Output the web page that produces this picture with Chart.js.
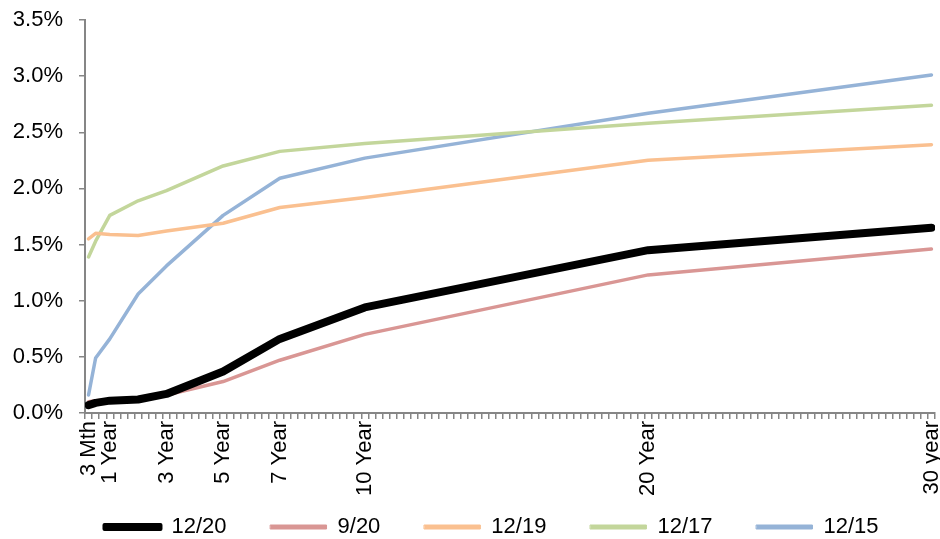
<!DOCTYPE html>
<html>
<head>
<meta charset="utf-8">
<script src="https://cdn.jsdelivr.net/npm/chart.js@4.4.0/dist/chart.umd.min.js"></script>
<style>
  html, body { margin: 0; padding: 0; background: #fff; }
  #curve { display: block; }
</style>
</head>
<body>
<canvas id="curve" width="940" height="539"></canvas>
<script>
// maturities in years
var maturities = [0.25, 0.5, 1, 2, 3, 5, 7, 10, 20, 30];
var tickLabels = {0.25: '3 Mth', 1: '1 Year', 3: '3 Year', 5: '5 Year', 7: '7 Year', 10: '10 Year', 20: '20 Year', 30: '30 year'};

var dec20 = [0.07, 0.09, 0.11, 0.12, 0.17, 0.37, 0.66, 0.94, 1.45, 1.65];
var sep20 = [0.10, 0.11, 0.12, 0.13, 0.16, 0.28, 0.47, 0.70, 1.23, 1.46];
var dec19 = [1.55, 1.60, 1.59, 1.58, 1.62, 1.69, 1.83, 1.92, 2.25, 2.39];
var dec17 = [1.39, 1.53, 1.76, 1.89, 1.98, 2.20, 2.33, 2.40, 2.58, 2.74];
var dec15 = [0.16, 0.49, 0.66, 1.06, 1.31, 1.76, 2.09, 2.27, 2.67, 3.01];

function pts(arr) {
    return arr.map(function (v, i) { return {x: maturities[i], y: v}; });
}

function series(label, arr, color, width) {
    return {
        label: label,
        data: pts(arr),
        borderColor: color,
        backgroundColor: color,
        borderWidth: width,
        pointRadius: 0,
        tension: 0,
        borderCapStyle: 'round',
        borderJoinStyle: 'round'
    };
}

var font = {family: '"Liberation Sans", Arial, sans-serif', size: 22};
var axisGrey = '#868686';

// the x labels hang down over the legend area, and the legend sits a bit right of centre
var layoutTweak = {
    id: 'layoutTweak',
    afterLayout: function (chart) {
        chart.scales.x.bottom = chart.height;
        chart.legend.left += 24;
        chart.legend.right += 24;
    }
};

var ctx = document.getElementById('curve').getContext('2d');
var myChart = new Chart(ctx, {
    type: 'line',
    data: {
        datasets: [
            series('12/20', dec20, '#000000', 8),
            series('9/20', sep20, '#D99694', 3.5),
            series('12/19', dec19, '#FAC090', 3.5),
            series('12/17', dec17, '#C3D69B', 3.5),
            series('12/15', dec15, '#95B3D7', 3.5)
        ]
    },
    plugins: [layoutTweak],
    options: {
        responsive: false,
        animation: false,
        layout: {
            padding: {top: 20, right: 5, left: 0, bottom: -9}
        },
        plugins: {
            tooltip: {enabled: false},
            legend: {
                position: 'bottom',
                labels: {
                    color: '#000',
                    font: font,
                    boxWidth: 56,
                    boxHeight: 4,
                    padding: 44,
                    generateLabels: function (chart) {
                        var items = Chart.defaults.plugins.legend.labels.generateLabels(chart);
                        items.forEach(function (it, i) {
                            it.lineWidth = i === 0 ? 4 : 1;
                            it.lineJoin = 'round';
                        });
                        return items;
                    }
                }
            }
        },
        scales: {
            x: {
                type: 'linear',
                min: 0.125,
                max: 30.125,
                afterBuildTicks: function (scale) {
                    var t = [];
                    for (var k = 1; k <= 120; k++) t.push({value: k * 0.25});
                    scale.ticks = t;
                },
                afterFit: function (scale) {
                    scale.height = 59;
                    scale.paddingLeft = 0;
                    scale.paddingRight = 0;
                },
                border: {color: axisGrey, width: 2},
                grid: {
                    offset: true,
                    drawOnChartArea: false,
                    color: axisGrey,
                    lineWidth: 1.5,
                    tickLength: 6
                },
                ticks: {
                    autoSkip: false,
                    minRotation: 90,
                    maxRotation: 90,
                    padding: 2,
                    color: '#000',
                    font: font,
                    callback: function (v) {
                        return tickLabels[v] || '';
                    }
                }
            },
            y: {
                min: 0,
                max: 3.5,
                afterFit: function (scale) {
                    scale.width = 85;
                    scale.paddingTop = 0;
                    scale.paddingBottom = 0;
                },
                border: {color: axisGrey, width: 2},
                grid: {
                    drawOnChartArea: false,
                    color: axisGrey,
                    lineWidth: 1.5,
                    tickLength: 6
                },
                ticks: {
                    stepSize: 0.5,
                    padding: 16,
                    color: '#000',
                    font: font,
                    callback: function (v) {
                        return v.toFixed(1) + '%';
                    }
                }
            }
        }
    }
});
</script>
</body>
</html>
